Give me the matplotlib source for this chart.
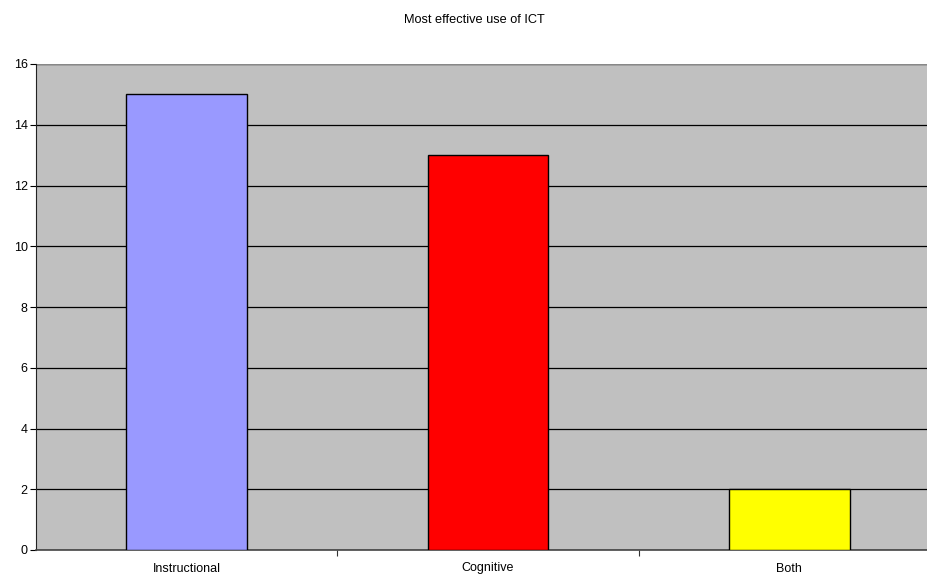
import matplotlib.pyplot as plt

plt.rcParams['font.family'] = ['Liberation Sans', 'DejaVu Sans']

categories = ["Instructional", "Cognitive", "Both"]
counts = [15, 13, 2]
colors = ["#9999ff", "#ff0000", "#ffff00"]

fig = plt.figure(figsize=(9.28, 5.75), dpi=100)
ax = fig.add_axes([36/928, 25/575, 904/928, 486/575])
ax.set_facecolor("#c0c0c0")

x = range(len(categories))
ax.bar(x, counts, width=0.4, color=colors, edgecolor="black", linewidth=1, zorder=3)

ax.set_xlim(-0.5, 2.5)
ax.set_ylim(0, 16)
ax.set_yticks(range(0, 17, 2))
ax.yaxis.grid(True, color="black", linewidth=0.9, zorder=0)
ax.set_axisbelow(True)

ax.set_xticks(list(x))
ax.set_xticklabels(categories)
ax.set_xticks([0.5, 1.5], minor=True)
ax.tick_params(axis="x", which="major", length=0, pad=9, labelsize=9)
ax.tick_params(axis="x", which="minor", length=4, width=0.8, color="#333333")
ax.tick_params(axis="y", length=4, width=0.8, labelsize=9, pad=2)

for side in ["top", "right"]:
    ax.spines[side].set_visible(False)
ax.spines["left"].set_color("#222222")
ax.spines["bottom"].set_color("#444444")
ax.spines["bottom"].set_linewidth(1.2)
ax.axhline(16, color="#888888", linewidth=1, zorder=1)

fig.text(474/928, 1 - 20/575, "Most effective use of ICT", ha="center", va="center", fontsize=9.2)

fig.savefig("out.png", dpi=100)
